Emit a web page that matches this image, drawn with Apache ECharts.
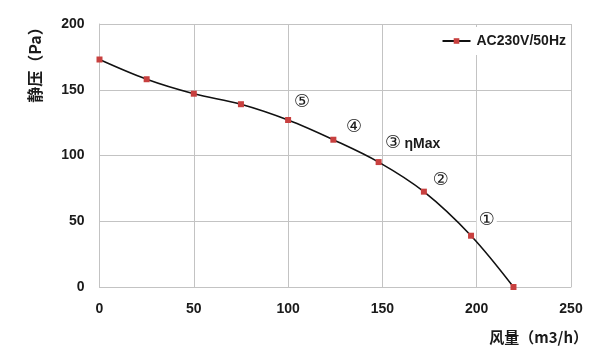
<!DOCTYPE html>
<html><head><meta charset="utf-8">
<script src="https://cdn.jsdelivr.net/npm/echarts@6/dist/echarts.min.js"></script>
<style>html,body{margin:0;padding:0;background:#fff}#c{width:600px;height:364px}</style>
</head><body><div id="c"></div>
<script>
const flow = [0, 25, 50, 75, 100, 124, 148, 172, 197, 219.5];
const pressure = [173, 158, 147, 139, 127, 112, 95, 72.5, 39, 0];
const seriesName = 'AC230V/50Hz';
const xTicks = [0, 50, 100, 150, 200, 250];
const yTicks = [0, 50, 100, 150, 200];
const annoText = ['⑤', '④', '③ ηMax', '②', '①'];
const annoX = [107.4, 135, 166, 181, 205.3];
const annoY = [140.2, 121.2, 109, 81.2, 51];
const xName = '风量（m3/h）';
const yName = '静压（Pa）';

const chart = echarts.init(document.getElementById('c'), null, {renderer: 'canvas'});
const gridColor = '#c3c3c3';
const txt = '#1a1a1a';
const lineData = flow.map((x, i) => [x, pressure[i]]);
const annoData = annoText.map((t, i) => ({name: t, value: [annoX[i], annoY[i]]}));

chart.setOption({
  animation: false,
  backgroundColor: '#fff',
  grid: {left: 99.5, right: 29, top: 24, bottom: 77, containLabel: false},
  xAxis: {
    type: 'value', min: xTicks[0], max: xTicks[xTicks.length - 1], interval: 50,
    axisLine: {show: true, lineStyle: {color: gridColor, width: 1}},
    axisTick: {show: false},
    splitLine: {show: true, lineStyle: {color: gridColor, width: 1}},
    axisLabel: {margin: 15, fontSize: 14, fontWeight: 'bold', color: txt, fontFamily: 'Liberation Sans'}
  },
  yAxis: {
    type: 'value', min: yTicks[0], max: yTicks[yTicks.length - 1], interval: 50,
    axisLine: {show: true, lineStyle: {color: gridColor, width: 1}},
    axisTick: {show: false},
    splitLine: {show: true, lineStyle: {color: gridColor, width: 1}},
    axisLabel: {margin: 15, fontSize: 14, fontWeight: 'bold', color: txt, fontFamily: 'Liberation Sans'}
  },
  legend: {
    data: [seriesName], right: 32, top: 27,
    backgroundColor: '#fff', padding: [7, 2, 7, 4],
    itemWidth: 28, itemHeight: 7, itemGap: 4,
    textStyle: {fontSize: 14, fontWeight: 'bold', color: txt, fontFamily: 'Liberation Sans', padding: [0, 0, 0, 1]}
  },
  graphic: [
    {type: 'text', x: 35, y: 61, rotation: Math.PI / 2,
     style: {text: yName, fontSize: 16, fontWeight: 'bold', fill: txt, fontFamily: 'Noto Sans CJK SC', align: 'center', verticalAlign: 'middle'}},
    {type: 'text', x: 588, y: 337,
     style: {text: xName, fontSize: 15, fontWeight: 'bold', fill: txt, fontFamily: 'Noto Sans CJK SC', align: 'right', verticalAlign: 'middle'}}
  ],
  series: [
    {
      name: seriesName, type: 'line', data: lineData, smooth: 0.35,
      symbol: 'rect', symbolSize: 6, showAllSymbol: true,
      lineStyle: {color: '#111', width: 1.6},
      itemStyle: {color: '#c8403f'}, z: 3
    },
    {
      name: 'anno', type: 'scatter', data: annoData, symbolSize: 0, silent: true, z: 2,
      itemStyle: {opacity: 1, color: 'transparent'},
      label: {
        show: true, position: 'inside', backgroundColor: '#fff', padding: [1, 2], opacity: 1,
        formatter: p => p.name.indexOf('ηMax') >= 0 ? '{c|③} {b|ηMax}' : '{c|' + p.name + '}',
        rich: {
          c: {fontSize: 18, color: txt, fontFamily: 'DejaVu Sans'},
          b: {fontSize: 14, fontWeight: 'bold', color: txt, fontFamily: 'Liberation Sans'}
        }
      }
    }
  ]
});
</script></body></html>
